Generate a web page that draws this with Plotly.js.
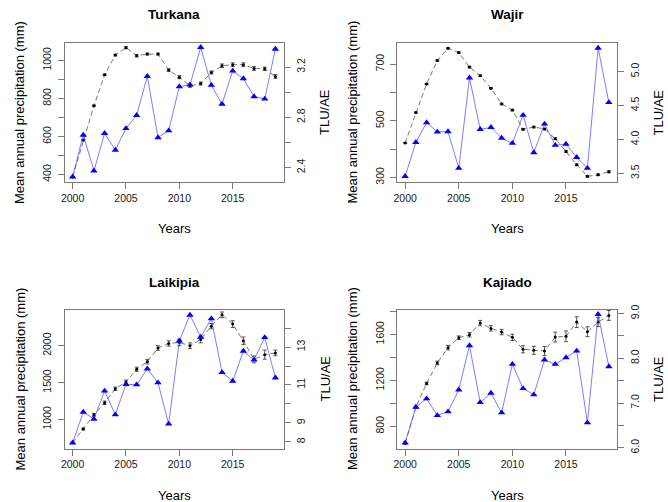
<!DOCTYPE html>
<html>
<head>
<meta charset="utf-8">
<script src="https://cdn.plot.ly/plotly-3.0.1.min.js"></script>
<style>html,body{margin:0;padding:0;background:#fff;}#chart{width:668px;height:502px;}</style>
</head>
<body>
<div id="chart"></div>
<script>
// ---- data ----
const years = [2000,2001,2002,2003,2004,2005,2006,2007,2008,2009,2010,2011,2012,2013,2014,2015,2016,2017,2018,2019];
const panelNames = ["Turkana", "Wajir", "Laikipia", "Kajiado"];

const turkanaPrecip = [388,608,420,617,529,643,712,917,595,631,863,872,1069,870,771,945,905,810,798,1060];
const turkanaTLU = [2.325,2.619,2.893,3.139,3.296,3.355,3.291,3.304,3.304,3.176,3.120,3.051,3.069,3.157,3.211,3.219,3.219,3.189,3.187,3.125];
const turkanaErr = [0.004,0.005,0.005,0.006,0.007,0.008,0.010,0.008,0.008,0.010,0.012,0.012,0.012,0.012,0.014,0.015,0.015,0.015,0.013,0.015];

const wajirPrecip = [304,424,494,461,462,333,652,470,477,439,421,520,388,489,414,418,371,333,757,565];
const wajirTLU = [3.949,4.398,4.817,5.163,5.344,5.280,5.066,4.939,4.754,4.524,4.432,4.149,4.183,4.154,4.012,3.822,3.627,3.456,3.480,3.524];
const wajirErr = [0.008,0.008,0.009,0.010,0.010,0.010,0.012,0.012,0.012,0.012,0.012,0.012,0.012,0.012,0.013,0.013,0.013,0.013,0.013,0.015];

const laikipiaPrecip = [682,1099,1004,1386,1063,1475,1471,1686,1498,937,2067,2417,2117,2368,1637,1520,1928,1807,2112,1565];
const laikipiaTLU = [7.95,8.68,9.43,10.06,10.80,11.16,11.83,12.23,12.95,13.19,13.24,13.07,13.40,14.10,14.70,14.21,13.33,12.35,12.60,12.69];
const laikipiaErr = [0.03,0.05,0.07,0.09,0.09,0.10,0.11,0.12,0.12,0.14,0.17,0.15,0.18,0.14,0.15,0.18,0.20,0.18,0.24,0.15];

const kajiadoPrecip = [655,968,1040,895,927,1118,1502,1008,1089,918,1340,1129,1075,1378,1340,1398,1456,832,1774,1320];
const kajiadoTLU = [6.104,6.904,7.437,7.896,8.237,8.459,8.526,8.785,8.667,8.585,8.467,8.200,8.178,8.163,8.474,8.489,8.807,8.593,8.807,8.956];
const kajiadoErr = [0.02,0.02,0.03,0.04,0.05,0.04,0.05,0.06,0.06,0.06,0.07,0.08,0.09,0.10,0.11,0.12,0.12,0.11,0.10,0.11];

// tick labels
const xTickVals = [2000,2005,2010,2015];
const turkanaPTicks = [400,500,600,700,800,900,1000];
const turkanaPText = ["400","","600","","800","","1000"];
const turkanaTTicks = [2.4,2.6,2.8,3.0,3.2];
const turkanaTText = ["2.4","","2.8","","3.2"];
const wajirPTicks = [300,400,500,600,700];
const wajirPText = ["300","","500","","700"];
const wajirTTicks = [3.5,4.0,4.5,5.0];
const wajirTText = ["3.5","4.0","4.5","5.0"];
const laikipiaPTicks = [1000,1500,2000];
const laikipiaPText = ["1000","1500","2000"];
const laikipiaTTicks = [8,9,10,11,12,13,14];
const laikipiaTText = ["8","9","","11","","13",""];
const kajiadoPTicks = [800,1000,1200,1400,1600,1800];
const kajiadoPText = ["800","","1200","","1600",""];
const kajiadoTTicks = [6.0,6.5,7.0,7.5,8.0,8.5,9.0];
const kajiadoTText = ["6.0","","7.0","","8.0","","9.0"];

// ---- layout geometry ----
const W = 668, H = 502;
const FONT = "Liberation Sans, Arial, Helvetica, sans-serif";
const panels = [
  {name: panelNames[0], P: turkanaPrecip, T: turkanaTLU, E: turkanaErr, pr: [361,1092], tr: [2.285,3.392],
   pt: turkanaPTicks, ptx: turkanaPText, tt: turkanaTTicks, ttx: turkanaTText, x0: 64.5, x1: 283.5, y0: 43, y1: 182},
  {name: panelNames[1], P: wajirPrecip, T: wajirTLU, E: wajirErr, pr: [284,775], tr: [3.373,5.421],
   pt: wajirPTicks, ptx: wajirPText, tt: wajirTTicks, ttx: wajirTText, x0: 397, x1: 617, y0: 43, y1: 182},
  {name: panelNames[2], P: laikipiaPrecip, T: laikipiaTLU, E: laikipiaErr, pr: [604,2492], tr: [7.65,14.98],
   pt: laikipiaPTicks, ptx: laikipiaPText, tt: laikipiaTTicks, ttx: laikipiaTText, x0: 64.5, x1: 283.5, y0: 309.5, y1: 448.5},
  {name: panelNames[3], P: kajiadoPrecip, T: kajiadoTLU, E: kajiadoErr, pr: [607,1816], tr: [5.984,9.089],
   pt: kajiadoPTicks, ptx: kajiadoPText, tt: kajiadoTTicks, ttx: kajiadoTText, x0: 397, x1: 617, y0: 309.5, y1: 448.5}
];

const px = v => v / W;
const py = v => 1 - v / H;

const traces = [];
const layout = {
  width: W, height: H,
  margin: {l: 0, r: 0, t: 0, b: 0},
  paper_bgcolor: "#ffffff", plot_bgcolor: "#ffffff",
  showlegend: false,
  font: {family: FONT, size: 11, color: "#000"},
  annotations: []
};

const axisLine = "#7a7a7a";
const tickFont = {family: FONT, size: 10.5, color: "#1a1a1a"};

panels.forEach((p, i) => {
  const n = i + 1;
  const xid = n === 1 ? "x" : "x" + n;
  const tId = 2 * i + 1, pId = 2 * i + 2;
  const tAxisRef = tId === 1 ? "y" : "y" + tId;
  const pAxisRef = "y" + pId;
  const xKey = n === 1 ? "xaxis" : "xaxis" + n;
  const tKey = tId === 1 ? "yaxis" : "yaxis" + tId;
  const pKey = "yaxis" + pId;

  layout[xKey] = {
    domain: [px(p.x0), px(p.x1)], anchor: tAxisRef,
    range: [1999.24, 2019.76], tickmode: "array", tickvals: xTickVals,
    ticks: "outside", ticklen: 6, tickcolor: axisLine, tickfont: tickFont,
    showline: true, mirror: true, linecolor: axisLine, linewidth: 1,
    showgrid: false, zeroline: false, fixedrange: true
  };
  layout[tKey] = {
    domain: [py(p.y1), py(p.y0)], anchor: xid, side: "right",
    range: p.tr, tickmode: "array", tickvals: p.tt, ticktext: p.ttx, tickangle: -90,
    ticks: "outside", ticklen: 6, tickcolor: axisLine, tickfont: tickFont,
    showline: true, mirror: true, linecolor: axisLine, linewidth: 1,
    showgrid: false, zeroline: false, fixedrange: true, ticklabelstandoff: 2
  };
  layout[pKey] = {
    overlaying: tAxisRef, anchor: xid, side: "left",
    range: p.pr, tickmode: "array", tickvals: p.pt, ticktext: p.ptx, tickangle: -90,
    ticks: "outside", ticklen: 6, tickcolor: axisLine, tickfont: tickFont,
    showline: false, showgrid: false, zeroline: false, fixedrange: true, ticklabelstandoff: 2
  };

  // TLU/AE (black dashed, error bars)
  traces.push({
    type: "scatter", mode: "lines+markers", x: years, y: p.T,
    xaxis: xid, yaxis: tAxisRef,
    line: {color: "#555", width: 0.8, dash: "5px,3px"},
    marker: {color: "#000", size: 3, symbol: "circle"},
    error_y: {type: "data", array: p.E, visible: true, color: "#444", thickness: 0.9, width: 2},
    hoverinfo: "skip"
  });
  // precipitation (blue triangles)
  traces.push({
    type: "scatter", mode: "lines+markers", x: years, y: p.P,
    xaxis: xid, yaxis: pAxisRef,
    line: {color: "rgba(70,70,255,0.7)", width: 1},
    marker: {color: "#0000ff", size: 6.5, symbol: "triangle-up"},
    hoverinfo: "skip"
  });

  const cx = (p.x0 + p.x1) / 2;
  const cy = (p.y0 + p.y1) / 2;
  const titleY = i < 2 ? 15 : 282;
  const yearsY = i < 2 ? 228 : 495;
  layout.annotations.push(
    {text: "<b>" + p.name + "</b>", x: px(cx), y: py(titleY), xref: "paper", yref: "paper",
     xanchor: "center", yanchor: "middle", showarrow: false, font: {family: FONT, size: 13.5, color: "#000"}},
    {text: "Years", x: px(cx), y: py(yearsY), xref: "paper", yref: "paper",
     xanchor: "center", yanchor: "middle", showarrow: false, font: {family: FONT, size: 13, color: "#000"}},
    {text: "Mean annual precipitation (mm)", x: px(p.x0 - 45), y: py(cy), xref: "paper", yref: "paper",
     xanchor: "center", yanchor: "middle", textangle: -90, showarrow: false, font: {family: FONT, size: 13, color: "#000"}},
    {text: "TLU/AE", x: px(p.x1 + 41), y: py(cy), xref: "paper", yref: "paper",
     xanchor: "center", yanchor: "middle", textangle: -90, showarrow: false, font: {family: FONT, size: 13, color: "#000"}}
  );
});

Plotly.newPlot("chart", traces, layout, {staticPlot: true, displayModeBar: false});
</script>
</body>
</html>
